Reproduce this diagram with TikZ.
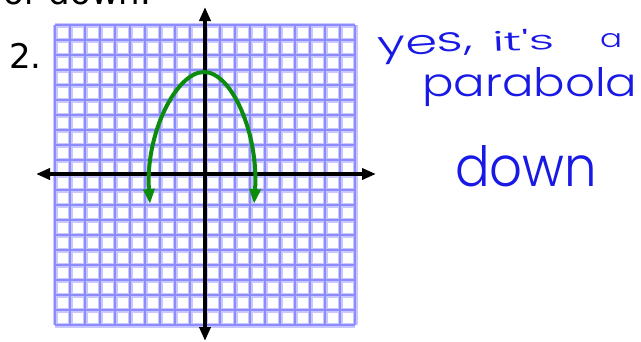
\documentclass[tikz,border=0pt]{standalone}
\usepackage{fontspec}
\usepackage{graphicx}
\setmainfont{DejaVu Sans}
\IfFontExistsTF{Poppins Light}{\newfontfamily\handfont{Poppins Light}}{\newfontfamily\handfont{Poppins}}
\usetikzlibrary{arrows.meta}
\definecolor{gridblue}{RGB}{140,140,255}
\definecolor{gridhalo}{RGB}{200,200,255}
\definecolor{curvegreen}{RGB}{12,140,12}
\definecolor{inkblue}{RGB}{25,25,230}
\tikzset{
  gridhalo line/.style={gridhalo, line width=5pt},
  gridcore line/.style={gridblue, line width=2.2pt},
  axisline/.style={black, line width=4pt, {Triangle[length=14pt,width=11pt]}-{Triangle[length=14pt,width=11pt]}},
  curveline/.style={curvegreen, line width=4pt, {Triangle[length=15pt,width=11pt]}-{Triangle[length=15pt,width=11pt]}},
  printtext/.style={inner sep=0pt, font=\fontsize{34}{40}\selectfont},
  handtext/.style={inner sep=0pt, text=inkblue, font=\handfont\fontsize{36}{40}\selectfont, anchor=base west},
}
\begin{document}
\begin{tikzpicture}[x=1pt,y=-1pt]
\useasboundingbox (0,0) rectangle (641,341);
\clip (0,0) rectangle (641,341);
% grid
\foreach \i in {0,...,20} {
  \draw[gridhalo line] (55+15*\i,25) -- (55+15*\i,325);
  \draw[gridhalo line] (55,25+15*\i) -- (355,25+15*\i);
}
\foreach \i in {0,...,20} {
  \draw[gridcore line] (55+15*\i,25) -- (55+15*\i,325);
  \draw[gridcore line] (55,25+15*\i) -- (355,25+15*\i);
}
% axes
\coordinate (xl) at (36,174);
\coordinate (xr) at (376,174);
\coordinate (yt) at (205,7);
\coordinate (yb) at (205,341);
\draw[axisline] (xl) -- (xr);
\draw[axisline] (yt) -- (yb);
% parabola
\coordinate (lt) at (150,204);
\coordinate (v) at (204,72);
\coordinate (rt) at (254,204);
\draw[curveline] (lt) .. controls (145,135) and (176,72) .. (v)
                      .. controls (232,72) and (259,135) .. (rt);
% printed text
\node[printtext, anchor=base west] (topline) at (3,4.5) {or down.};
\node[printtext, anchor=base west] (num) at (9,68) {2.};
% handwriting
\node[handtext, rotate=4] (w1) at (378,57) {\resizebox{95pt}{19pt}{yes,}};
\node[handtext, rotate=3] (w2) at (493,52) {\resizebox{62pt}{21pt}{it's}};
\node[handtext] (w3) at (600,47) {\resizebox{22pt}{14pt}{a}};
\node[handtext] (h2) at (422,96) {\resizebox{215pt}{29pt}{parabola}};
\node[handtext] (h3) at (455,186) {\resizebox{142pt}{41pt}{down}};
\end{tikzpicture}
\end{document}
